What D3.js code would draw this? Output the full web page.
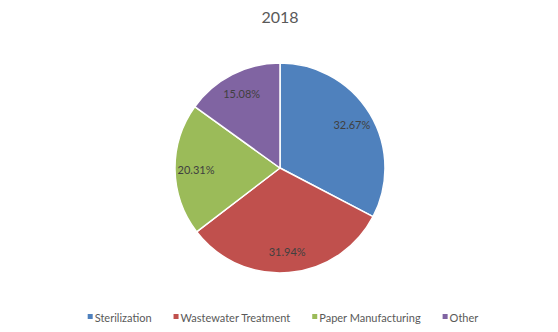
<!DOCTYPE html>
<html>
<head>
<meta charset="utf-8">
<script src="https://cdn.jsdelivr.net/npm/d3@7/dist/d3.min.js"></script>
<style>
  html, body { margin: 0; padding: 0; background: #fff; }
  svg { display: block; font-family: Lato, "Liberation Sans", Arial, sans-serif; }
</style>
</head>
<body>
<svg id="chart" width="558" height="332"></svg>
<script>
// Market share by application, 2018
const title = "2018";
const categories = ["Sterilization", "Wastewater Treatment", "Paper Manufacturing", "Other"];
const shares = [32.67, 31.94, 20.31, 15.08];
const colors = ["#4F81BD", "#C0504D", "#9BBB59", "#8064A2"];

const width = 558, height = 332;
const cx = 280, cy = 168, radius = 105, labelRadius = 84;

const svg = d3.select("#chart");

svg.append("text")
  .attr("x", 280).attr("y", 23)
  .attr("text-anchor", "middle")
  .attr("font-size", 16)
  .attr("fill", "#595959")
  .text(title);

const data = categories.map((c, i) => ({ name: c, value: shares[i], color: colors[i] }));

const pie = d3.pie().value(d => d.value).sort(null);
const arc = d3.arc().innerRadius(0).outerRadius(radius);
const labelArc = d3.arc().innerRadius(labelRadius).outerRadius(labelRadius);

const g = svg.append("g").attr("transform", `translate(${cx},${cy})`);
const arcs = pie(data);

g.selectAll("path.slice")
  .data(arcs)
  .join("path")
  .attr("class", "slice")
  .attr("d", arc)
  .attr("fill", d => d.data.color)
  .attr("stroke", "#fff")
  .attr("stroke-width", 1.5)
  .attr("stroke-linejoin", "round");

g.selectAll("text.pct")
  .data(arcs)
  .join("text")
  .attr("class", "pct")
  .attr("transform", d => `translate(${labelArc.centroid(d)})`)
  .attr("text-anchor", "middle")
  .attr("dominant-baseline", "central")
  .attr("font-size", 11)
  .attr("fill", "#404040")
  .text(d => d.data.value.toFixed(2) + "%");

// Legend: centered row of swatch + label items
const legend = svg.append("g");
const items = legend.selectAll("g.item").data(data).join("g").attr("class", "item");
items.append("rect")
  .attr("width", 5).attr("height", 5)
  .attr("y", -3)
  .attr("fill", d => d.color);
items.append("text")
  .attr("x", 7).attr("y", 0)
  .attr("dominant-baseline", "central")
  .attr("font-size", 11)
  .attr("fill", "#595959")
  .text(d => d.name);

let x = 0;
items.each(function () {
  const w = d3.select(this).select("text").node().getComputedTextLength();
  d3.select(this).attr("transform", `translate(${x},0)`);
  x += 7 + w + 22;
});
const total = x - 22;
legend.attr("transform", `translate(${283 - total / 2},317)`);
</script>
</body>
</html>
